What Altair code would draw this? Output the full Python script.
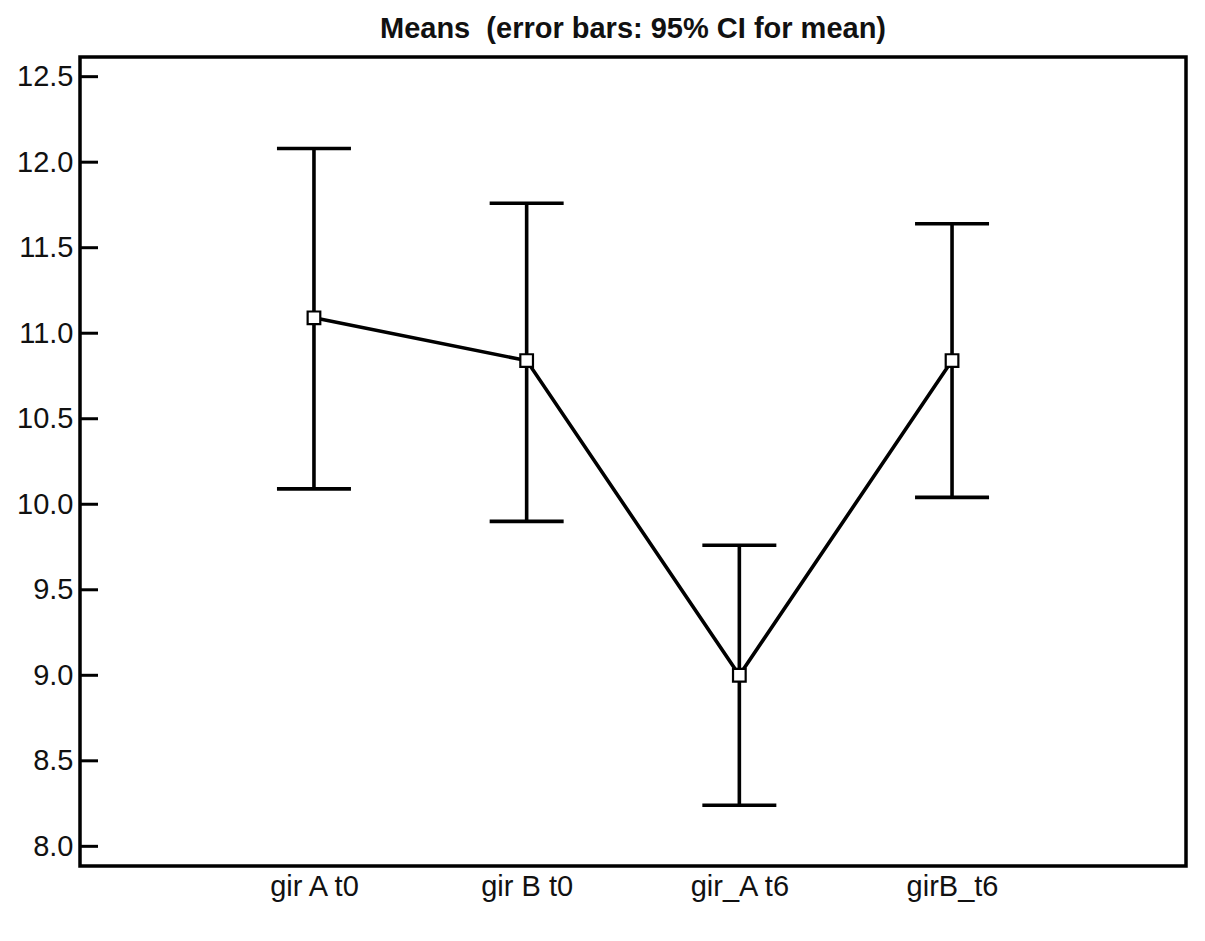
import altair as alt
import pandas as pd

groups = ["gir A t0", "gir B t0", "gir_A t6", "girB_t6"]
means = [11.09, 10.84, 9.00, 10.84]
ci_low = [10.09, 9.90, 8.24, 10.04]
ci_high = [12.08, 11.76, 9.76, 11.64]
y_ticks = [8.0, 8.5, 9.0, 9.5, 10.0, 10.5, 11.0, 11.5, 12.0, 12.5]

df = pd.DataFrame({"group": groups, "mean": means, "lo": ci_low, "hi": ci_high})
df["idx"] = range(1, len(groups) + 1)
ticks_df = pd.DataFrame({"t": y_ticks})

FONT = "Liberation Sans"
label_expr = "[" + ",".join("'" + g + "'" for g in groups) + "][datum.value - 1]"
xscale = alt.Scale(domain=[-0.1, len(groups) + 1.1], nice=False, zero=False)
yscale = alt.Scale(domain=[7.885, 12.615], nice=False, zero=False)

x_enc = alt.X("idx:Q", scale=xscale,
              axis=alt.Axis(title=None, values=list(range(1, len(groups) + 1)),
                            labelExpr=label_expr, ticks=False, domain=False, grid=False,
                            labelFont=FONT, labelFontSize=29, labelColor="#111",
                            labelPadding=6))
y_axis = alt.Axis(title=None, values=y_ticks, format=".1f", ticks=False, domain=False,
                  grid=False, labelFont=FONT, labelFontSize=29, labelColor="#111",
                  labelPadding=7)

base = alt.Chart(df)
xq = alt.X("idx:Q", scale=xscale)
SW = 3.6

err = base.mark_rule(color="black", strokeWidth=SW).encode(
    x=x_enc,
    y=alt.Y("lo:Q", scale=yscale, axis=y_axis),
    y2="hi:Q",
)
cap_lo = base.mark_tick(color="black", thickness=SW, size=74, orient="horizontal",
                        opacity=1).encode(x=xq, y=alt.Y("lo:Q", scale=yscale))
cap_hi = base.mark_tick(color="black", thickness=SW, size=74, orient="horizontal",
                        opacity=1).encode(x=xq, y=alt.Y("hi:Q", scale=yscale))
line = base.mark_line(color="black", strokeWidth=SW).encode(
    x=xq, y=alt.Y("mean:Q", scale=yscale))
pts = base.mark_point(shape="square", filled=True, fill="white", stroke="black",
                      strokeWidth=2.2, size=160, opacity=1).encode(
    x=xq, y=alt.Y("mean:Q", scale=yscale))
inner_ticks = alt.Chart(ticks_df).mark_rule(color="black", strokeWidth=3).encode(
    y=alt.Y("t:Q", scale=yscale), x=alt.value(0), x2=alt.value(18))

chart = alt.layer(err, cap_lo, cap_hi, line, pts, inner_ticks).properties(
    width=1106, height=809,
    background="white",
    title=alt.TitleParams("Means\u00a0 (error bars: 95% CI for mean)", font=FONT, fontSize=29,
                          fontWeight="bold", color="#111", anchor="middle", offset=13),
    autosize=alt.AutoSizeParams(type="none"),
    padding={"left": 72, "top": 49, "right": 10, "bottom": 60},
).configure_view(stroke="black", strokeWidth=3.5)

chart.save("out.html", embed_options={"renderer": "svg", "actions": False})
